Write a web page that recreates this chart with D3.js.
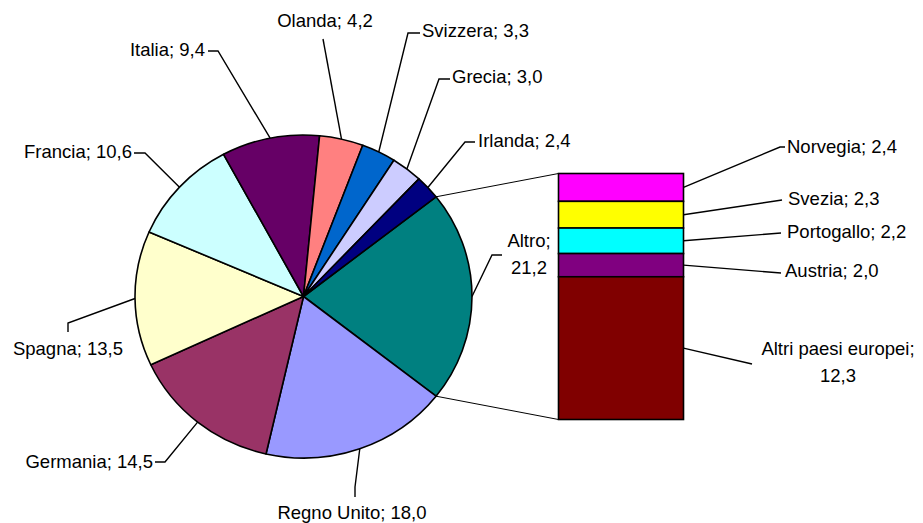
<!DOCTYPE html>
<html lang="it">
  <head>
    <meta charset="utf-8"/>
    <title>Pie of bar</title>
    <script src="https://cdn.jsdelivr.net/npm/d3@7"></script>
    <style>
      body { margin: 0; background: #fff; }
      text { font-family: "Liberation Sans", Arial, sans-serif; font-size: 18.5px; fill: #000; }
    </style>
  </head>
  <body>
    <div id="chart"></div>
    <script type="text/javascript">

      // pie slices, clockwise starting from "Altro"
      var pieNames  = ["Altro", "Regno Unito", "Germania", "Spagna", "Francia", "Italia", "Olanda", "Svizzera", "Grecia", "Irlanda"];
      var pieValues = [21.2, 18.0, 14.5, 13.5, 10.6, 9.4, 4.2, 3.3, 3.0, 2.4];
      var pieColours = ["#008080", "#9999FF", "#993366", "#FFFFCC", "#CCFFFF", "#660066", "#FF8080", "#0066CC", "#CCCCFF", "#000080"];

      // breakdown of "Altro", top to bottom
      var barNames  = ["Norvegia", "Svezia", "Portogallo", "Austria", "Altri paesi europei"];
      var barValues = [2.4, 2.3, 2.2, 2.0, 12.3];
      var barColours = ["#FF00FF", "#FFFF00", "#00FFFF", "#800080", "#800000"];

      var w = 923, h = 523;
      // pie is drawn slightly squashed, like the original
      var cx = 303.5, cy = 296.5, rx = 168.5, ry = 161.5;
      // bar geometry
      var barX = 558.5, barW = 125, barTop = 173.5, barBottom = 419.5;

      // label placement: text position, anchor, and knee points of the leader line
      var pieLabelLayout = {
        "Altro":       { x: 529, y: 247, anchor: "middle", lines: 2, leader: [[502, 255], [492, 255]] },
        "Regno Unito": { x: 352, y: 519, anchor: "middle", leader: [[355, 497], [355, 487]] },
        "Germania":    { x: 153, y: 468, anchor: "end",    leader: [[155, 462], [165, 462]] },
        "Spagna":      { x: 68,  y: 355, anchor: "middle", leader: [[68, 332], [68, 323]] },
        "Francia":     { x: 132, y: 158, anchor: "end",    leader: [[134, 153], [145, 153]] },
        "Italia":      { x: 205, y: 56,  anchor: "end",    leader: [[208, 51], [218, 51]] },
        "Olanda":      { x: 325, y: 27,  anchor: "middle", leader: [[323, 39]] },
        "Svizzera":    { x: 422, y: 37,  anchor: "start",  leader: [[420, 33], [408, 33]] },
        "Grecia":      { x: 452, y: 83,  anchor: "start",  leader: [[450, 79], [439, 79]] },
        "Irlanda":     { x: 478, y: 147, anchor: "start",  leader: [[475, 142], [465, 142]] }
      };
      var barLabelLayout = {
        "Norvegia":            { x: 787, y: 153, anchor: "start", leader: [[785, 147], [780, 147]] },
        "Svezia":              { x: 788, y: 205, anchor: "start", leader: [[782, 200]] },
        "Portogallo":          { x: 787, y: 238, anchor: "start", leader: [[781, 233]] },
        "Austria":             { x: 785, y: 277, anchor: "start", leader: [[781, 273]] },
        "Altri paesi europei": { x: 838, y: 355, anchor: "middle", lines: 2, leader: [[752, 364]] }
      };

      var fmt = function(v) { return d3.format(".1f")(v).replace(".", ","); };

      var svg = d3.select("#chart")
        .append("svg")
        .attr("width", w)
        .attr("height", h)
      ;

      var total = d3.sum(pieValues);
      var altroAngle = pieValues[0] / total * 2 * Math.PI;
      // centre "Altro" on 3 o'clock
      var start = Math.PI / 2 - altroAngle / 2;

      var pie = d3.pie()
        .sort(null)
        .startAngle(start)
        .endAngle(start + 2 * Math.PI)
      ;
      var arcs = pie(pieValues);

      var arc = d3.arc().innerRadius(0).outerRadius(rx);

      // point on the (elliptical) pie edge at a d3 angle
      function edge(a) {
        return [cx + rx * Math.sin(a), cy - ry * Math.cos(a)];
      }

      // connector lines pie -> bar
      var altro = arcs[0];
      var line = d3.line();
      svg.append("path")
        .attr("d", line([edge(altro.startAngle), [barX, barTop]]))
        .attr("fill", "none").attr("stroke", "#000").attr("stroke-width", 1);
      svg.append("path")
        .attr("d", line([edge(altro.endAngle), [barX, barBottom]]))
        .attr("fill", "none").attr("stroke", "#000").attr("stroke-width", 1);

      // pie slices
      svg.append("g")
        .attr("transform", "translate(" + cx + "," + cy + ") scale(1," + (ry / rx) + ")")
        .selectAll("path")
        .data(arcs)
        .enter()
        .append("path")
        .attr("d", arc)
        .attr("fill", function(d, i) { return pieColours[i]; })
        .attr("stroke", "#000")
        .attr("stroke-width", 1.6)
        .attr("stroke-linejoin", "round")
        .attr("vector-effect", "non-scaling-stroke")
      ;

      // bar of "Altro"
      var y = d3.scaleLinear()
        .domain([0, d3.sum(barValues)])
        .range([barTop, barBottom])
      ;
      var cum = d3.cumsum(barValues);
      var barData = barValues.map(function(v, i) {
        return { name: barNames[i], value: v, y0: cum[i] - v, y1: cum[i], colour: barColours[i] };
      });

      svg.append("g")
        .selectAll("rect")
        .data(barData)
        .enter()
        .append("rect")
        .attr("x", barX)
        .attr("width", barW)
        .attr("y", function(d) { return y(d.y0); })
        .attr("height", function(d) { return y(d.y1) - y(d.y0); })
        .attr("fill", function(d) { return d.colour; })
        .attr("stroke", "#000")
        .attr("stroke-width", 1.6)
      ;

      // labels + leader lines
      function addLabel(name, value, lay, target) {
        var pts = lay.leader.concat([target]);
        svg.append("path")
          .attr("d", line(pts))
          .attr("fill", "none")
          .attr("stroke", "#000")
          .attr("stroke-width", 1.4)
        ;
        var t = svg.append("text")
          .attr("x", lay.x)
          .attr("y", lay.y)
          .attr("text-anchor", lay.anchor)
        ;
        if (lay.lines == 2) {
          t.append("tspan").attr("x", lay.x).text(name + ";");
          t.append("tspan").attr("x", lay.x).attr("dy", 26.5).text(fmt(value));
        } else {
          t.text(name + "; " + fmt(value));
        }
      }

      arcs.forEach(function(d, i) {
        var mid = (d.startAngle + d.endAngle) / 2;
        addLabel(pieNames[i], pieValues[i], pieLabelLayout[pieNames[i]], edge(mid));
      });

      barData.forEach(function(d) {
        addLabel(d.name, d.value, barLabelLayout[d.name], [barX + barW, (y(d.y0) + y(d.y1)) / 2]);
      });
    </script>
  </body>
</html>
